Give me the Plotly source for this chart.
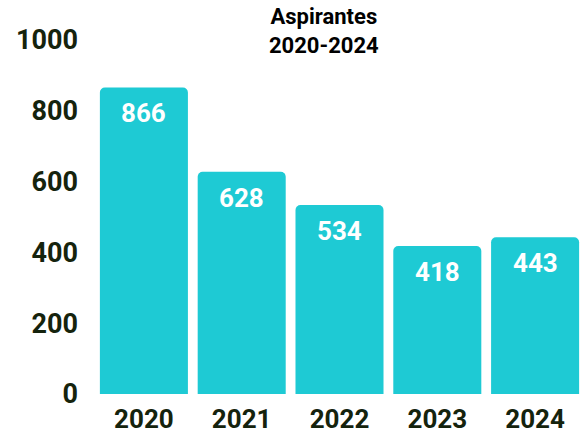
import plotly.graph_objects as go

years = ["2020", "2021", "2022", "2023", "2024"]
aspirantes = [866, 628, 534, 418, 443]
y_ticks = [0, 200, 400, 600, 800, 1000]

bar_color = "#1ECAD4"
tick_color = "#15230D"
font_name = "Roboto"

W, H = 584, 434
L, R, T, B = 95, 0, 40, 40
plot_h = H - T - B
plot_w = W - L - R

bars = go.Bar(
    x=years,
    y=aspirantes,
    marker=dict(color=bar_color, cornerradius=5, line=dict(width=0)),
    hoverinfo="skip",
)

fig = go.Figure(data=[bars])

# value labels near the top of each bar (category axis -> use index)
for i, v in enumerate(aspirantes):
    fig.add_annotation(
        x=i, y=v, text=str(v),
        showarrow=False, yanchor="top", yshift=-9,
        font=dict(family=font_name, size=26, color="white", weight="bold"),
    )

# two-line title
fig.add_annotation(
    xref="paper", yref="paper",
    x=(324 - L) / plot_w, y=1.0 + (T - 31) / plot_h,
    xanchor="center", yanchor="middle",
    text="Aspirantes<br>2020-2024", showarrow=False,
    font=dict(family=font_name, size=22, color="black", weight="bold"),
)

fig.update_layout(
    width=W,
    height=H,
    margin=dict(l=L, r=R, t=T, b=B),
    paper_bgcolor="white",
    plot_bgcolor="white",
    bargap=0.1,
    showlegend=False,
)

fig.update_xaxes(
    type="category",
    automargin=False,
    showgrid=False,
    showline=False,
    ticks="",
    ticklabelstandoff=7,
    tickfont=dict(family=font_name, size=26, color=tick_color, weight="bold"),
)

fig.update_yaxes(
    automargin=False,
    range=[0, 1000],
    tickvals=y_ticks,
    showgrid=False,
    zeroline=False,
    showline=False,
    ticks="",
    ticklabelstandoff=16,
    tickfont=dict(family=font_name, size=27, color=tick_color, weight="bold"),
)

# drop the default 8px page margin so the figure fills the window
fig.write_html(
    "out.html",
    config={"displayModeBar": False},
    post_script="document.body.style.margin = '0';",
)
